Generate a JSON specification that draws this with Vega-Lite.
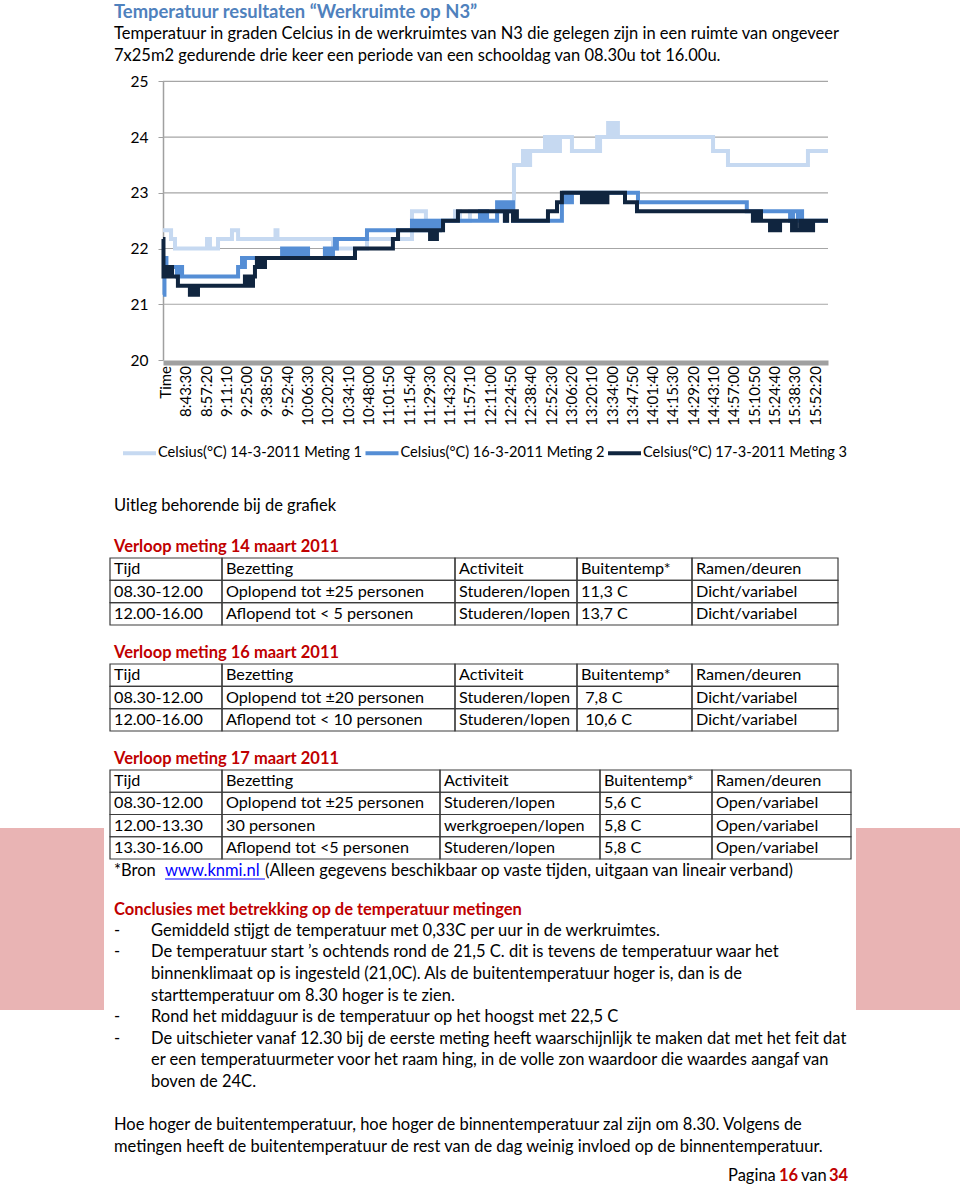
{
  "$schema": "https://vega.github.io/schema/vega-lite/v6.json",
  "width": 960,
  "height": 1186,
  "padding": 0,
  "autosize": {"type": "none"},
  "background": "white",
  "config": {"view": {"stroke": null}, "font": "Lato", "axis": {"grid": false}},
  "datasets": {
    "metingen": [
      {"reeks": "Celsius(°C) 14-3-2011 Meting 1", "tijd": "2011-03-14T08:27:40", "celsius": 22.33},
      {"reeks": "Celsius(°C) 14-3-2011 Meting 1", "tijd": "2011-03-14T08:33:10", "celsius": 22.17},
      {"reeks": "Celsius(°C) 14-3-2011 Meting 1", "tijd": "2011-03-14T08:35:50", "celsius": 22.0},
      {"reeks": "Celsius(°C) 14-3-2011 Meting 1", "tijd": "2011-03-14T08:57:40", "celsius": 22.17},
      {"reeks": "Celsius(°C) 14-3-2011 Meting 1", "tijd": "2011-03-14T08:59:40", "celsius": 22.0},
      {"reeks": "Celsius(°C) 14-3-2011 Meting 1", "tijd": "2011-03-14T09:05:10", "celsius": 22.17},
      {"reeks": "Celsius(°C) 14-3-2011 Meting 1", "tijd": "2011-03-14T09:14:40", "celsius": 22.33},
      {"reeks": "Celsius(°C) 14-3-2011 Meting 1", "tijd": "2011-03-14T09:18:50", "celsius": 22.17},
      {"reeks": "Celsius(°C) 14-3-2011 Meting 1", "tijd": "2011-03-14T09:44:20", "celsius": 22.33},
      {"reeks": "Celsius(°C) 14-3-2011 Meting 1", "tijd": "2011-03-14T09:45:40", "celsius": 22.17},
      {"reeks": "Celsius(°C) 14-3-2011 Meting 1", "tijd": "2011-03-14T10:23:30", "celsius": 22.0},
      {"reeks": "Celsius(°C) 14-3-2011 Meting 1", "tijd": "2011-03-14T10:46:40", "celsius": 22.17},
      {"reeks": "Celsius(°C) 14-3-2011 Meting 1", "tijd": "2011-03-14T11:17:20", "celsius": 22.67},
      {"reeks": "Celsius(°C) 14-3-2011 Meting 1", "tijd": "2011-03-14T11:26:50", "celsius": 22.5},
      {"reeks": "Celsius(°C) 14-3-2011 Meting 1", "tijd": "2011-03-14T11:46:40", "celsius": 22.67},
      {"reeks": "Celsius(°C) 14-3-2011 Meting 1", "tijd": "2011-03-14T11:50:00", "celsius": 22.5},
      {"reeks": "Celsius(°C) 14-3-2011 Meting 1", "tijd": "2011-03-14T11:56:50", "celsius": 22.67},
      {"reeks": "Celsius(°C) 14-3-2011 Meting 1", "tijd": "2011-03-14T12:26:50", "celsius": 23.5},
      {"reeks": "Celsius(°C) 14-3-2011 Meting 1", "tijd": "2011-03-14T12:33:00", "celsius": 23.75},
      {"reeks": "Celsius(°C) 14-3-2011 Meting 1", "tijd": "2011-03-14T12:34:20", "celsius": 23.5},
      {"reeks": "Celsius(°C) 14-3-2011 Meting 1", "tijd": "2011-03-14T12:35:20", "celsius": 23.75},
      {"reeks": "Celsius(°C) 14-3-2011 Meting 1", "tijd": "2011-03-14T12:36:20", "celsius": 23.5},
      {"reeks": "Celsius(°C) 14-3-2011 Meting 1", "tijd": "2011-03-14T12:37:50", "celsius": 23.75},
      {"reeks": "Celsius(°C) 14-3-2011 Meting 1", "tijd": "2011-03-14T12:48:00", "celsius": 24.0},
      {"reeks": "Celsius(°C) 14-3-2011 Meting 1", "tijd": "2011-03-14T12:49:20", "celsius": 23.75},
      {"reeks": "Celsius(°C) 14-3-2011 Meting 1", "tijd": "2011-03-14T12:50:20", "celsius": 24.0},
      {"reeks": "Celsius(°C) 14-3-2011 Meting 1", "tijd": "2011-03-14T12:51:20", "celsius": 23.75},
      {"reeks": "Celsius(°C) 14-3-2011 Meting 1", "tijd": "2011-03-14T12:52:30", "celsius": 24.0},
      {"reeks": "Celsius(°C) 14-3-2011 Meting 1", "tijd": "2011-03-14T12:53:30", "celsius": 23.75},
      {"reeks": "Celsius(°C) 14-3-2011 Meting 1", "tijd": "2011-03-14T12:54:30", "celsius": 24.0},
      {"reeks": "Celsius(°C) 14-3-2011 Meting 1", "tijd": "2011-03-14T12:55:30", "celsius": 23.75},
      {"reeks": "Celsius(°C) 14-3-2011 Meting 1", "tijd": "2011-03-14T12:56:30", "celsius": 24.0},
      {"reeks": "Celsius(°C) 14-3-2011 Meting 1", "tijd": "2011-03-14T12:57:30", "celsius": 23.75},
      {"reeks": "Celsius(°C) 14-3-2011 Meting 1", "tijd": "2011-03-14T12:58:10", "celsius": 24.0},
      {"reeks": "Celsius(°C) 14-3-2011 Meting 1", "tijd": "2011-03-14T13:06:20", "celsius": 23.75},
      {"reeks": "Celsius(°C) 14-3-2011 Meting 1", "tijd": "2011-03-14T13:23:30", "celsius": 24.0},
      {"reeks": "Celsius(°C) 14-3-2011 Meting 1", "tijd": "2011-03-14T13:24:30", "celsius": 23.75},
      {"reeks": "Celsius(°C) 14-3-2011 Meting 1", "tijd": "2011-03-14T13:25:30", "celsius": 24.0},
      {"reeks": "Celsius(°C) 14-3-2011 Meting 1", "tijd": "2011-03-14T13:31:00", "celsius": 24.25},
      {"reeks": "Celsius(°C) 14-3-2011 Meting 1", "tijd": "2011-03-14T13:32:00", "celsius": 24.0},
      {"reeks": "Celsius(°C) 14-3-2011 Meting 1", "tijd": "2011-03-14T13:33:00", "celsius": 24.25},
      {"reeks": "Celsius(°C) 14-3-2011 Meting 1", "tijd": "2011-03-14T13:34:00", "celsius": 24.0},
      {"reeks": "Celsius(°C) 14-3-2011 Meting 1", "tijd": "2011-03-14T13:35:00", "celsius": 24.25},
      {"reeks": "Celsius(°C) 14-3-2011 Meting 1", "tijd": "2011-03-14T13:36:00", "celsius": 24.0},
      {"reeks": "Celsius(°C) 14-3-2011 Meting 1", "tijd": "2011-03-14T13:37:00", "celsius": 24.25},
      {"reeks": "Celsius(°C) 14-3-2011 Meting 1", "tijd": "2011-03-14T13:37:40", "celsius": 24.0},
      {"reeks": "Celsius(°C) 14-3-2011 Meting 1", "tijd": "2011-03-14T14:42:30", "celsius": 23.75},
      {"reeks": "Celsius(°C) 14-3-2011 Meting 1", "tijd": "2011-03-14T14:52:40", "celsius": 23.5},
      {"reeks": "Celsius(°C) 14-3-2011 Meting 1", "tijd": "2011-03-14T15:47:10", "celsius": 23.75},
      {"reeks": "Celsius(°C) 14-3-2011 Meting 1", "tijd": "2011-03-14T16:00:50", "celsius": 23.75},

      {"reeks": "Celsius(°C) 16-3-2011 Meting 2", "tijd": "2011-03-16T08:27:40", "celsius": 21.17},
      {"reeks": "Celsius(°C) 16-3-2011 Meting 2", "tijd": "2011-03-16T08:28:40", "celsius": 21.83},
      {"reeks": "Celsius(°C) 16-3-2011 Meting 2", "tijd": "2011-03-16T08:30:00", "celsius": 21.67},
      {"reeks": "Celsius(°C) 16-3-2011 Meting 2", "tijd": "2011-03-16T08:37:10", "celsius": 21.5},
      {"reeks": "Celsius(°C) 16-3-2011 Meting 2", "tijd": "2011-03-16T08:38:10", "celsius": 21.67},
      {"reeks": "Celsius(°C) 16-3-2011 Meting 2", "tijd": "2011-03-16T08:39:20", "celsius": 21.5},
      {"reeks": "Celsius(°C) 16-3-2011 Meting 2", "tijd": "2011-03-16T08:40:00", "celsius": 21.67},
      {"reeks": "Celsius(°C) 16-3-2011 Meting 2", "tijd": "2011-03-16T08:40:40", "celsius": 21.5},
      {"reeks": "Celsius(°C) 16-3-2011 Meting 2", "tijd": "2011-03-16T09:18:50", "celsius": 21.67},
      {"reeks": "Celsius(°C) 16-3-2011 Meting 2", "tijd": "2011-03-16T09:21:30", "celsius": 21.83},
      {"reeks": "Celsius(°C) 16-3-2011 Meting 2", "tijd": "2011-03-16T09:22:30", "celsius": 21.67},
      {"reeks": "Celsius(°C) 16-3-2011 Meting 2", "tijd": "2011-03-16T09:23:30", "celsius": 21.83},
      {"reeks": "Celsius(°C) 16-3-2011 Meting 2", "tijd": "2011-03-16T09:48:50", "celsius": 22.0},
      {"reeks": "Celsius(°C) 16-3-2011 Meting 2", "tijd": "2011-03-16T09:49:50", "celsius": 21.83},
      {"reeks": "Celsius(°C) 16-3-2011 Meting 2", "tijd": "2011-03-16T09:50:50", "celsius": 22.0},
      {"reeks": "Celsius(°C) 16-3-2011 Meting 2", "tijd": "2011-03-16T09:51:50", "celsius": 21.83},
      {"reeks": "Celsius(°C) 16-3-2011 Meting 2", "tijd": "2011-03-16T09:52:50", "celsius": 22.0},
      {"reeks": "Celsius(°C) 16-3-2011 Meting 2", "tijd": "2011-03-16T09:53:50", "celsius": 21.83},
      {"reeks": "Celsius(°C) 16-3-2011 Meting 2", "tijd": "2011-03-16T09:54:50", "celsius": 22.0},
      {"reeks": "Celsius(°C) 16-3-2011 Meting 2", "tijd": "2011-03-16T09:56:20", "celsius": 21.83},
      {"reeks": "Celsius(°C) 16-3-2011 Meting 2", "tijd": "2011-03-16T09:59:00", "celsius": 22.0},
      {"reeks": "Celsius(°C) 16-3-2011 Meting 2", "tijd": "2011-03-16T10:01:00", "celsius": 21.83},
      {"reeks": "Celsius(°C) 16-3-2011 Meting 2", "tijd": "2011-03-16T10:03:00", "celsius": 22.0},
      {"reeks": "Celsius(°C) 16-3-2011 Meting 2", "tijd": "2011-03-16T10:04:30", "celsius": 21.83},
      {"reeks": "Celsius(°C) 16-3-2011 Meting 2", "tijd": "2011-03-16T10:05:30", "celsius": 22.0},
      {"reeks": "Celsius(°C) 16-3-2011 Meting 2", "tijd": "2011-03-16T10:06:30", "celsius": 21.83},
      {"reeks": "Celsius(°C) 16-3-2011 Meting 2", "tijd": "2011-03-16T10:18:00", "celsius": 22.0},
      {"reeks": "Celsius(°C) 16-3-2011 Meting 2", "tijd": "2011-03-16T10:19:30", "celsius": 21.83},
      {"reeks": "Celsius(°C) 16-3-2011 Meting 2", "tijd": "2011-03-16T10:20:50", "celsius": 22.0},
      {"reeks": "Celsius(°C) 16-3-2011 Meting 2", "tijd": "2011-03-16T10:22:10", "celsius": 21.83},
      {"reeks": "Celsius(°C) 16-3-2011 Meting 2", "tijd": "2011-03-16T10:23:30", "celsius": 22.0},
      {"reeks": "Celsius(°C) 16-3-2011 Meting 2", "tijd": "2011-03-16T10:24:50", "celsius": 22.17},
      {"reeks": "Celsius(°C) 16-3-2011 Meting 2", "tijd": "2011-03-16T10:25:30", "celsius": 22.0},
      {"reeks": "Celsius(°C) 16-3-2011 Meting 2", "tijd": "2011-03-16T10:26:10", "celsius": 22.17},
      {"reeks": "Celsius(°C) 16-3-2011 Meting 2", "tijd": "2011-03-16T10:46:40", "celsius": 22.33},
      {"reeks": "Celsius(°C) 16-3-2011 Meting 2", "tijd": "2011-03-16T11:17:20", "celsius": 22.5},
      {"reeks": "Celsius(°C) 16-3-2011 Meting 2", "tijd": "2011-03-16T11:19:00", "celsius": 22.33},
      {"reeks": "Celsius(°C) 16-3-2011 Meting 2", "tijd": "2011-03-16T11:20:50", "celsius": 22.5},
      {"reeks": "Celsius(°C) 16-3-2011 Meting 2", "tijd": "2011-03-16T11:22:30", "celsius": 22.33},
      {"reeks": "Celsius(°C) 16-3-2011 Meting 2", "tijd": "2011-03-16T11:24:10", "celsius": 22.5},
      {"reeks": "Celsius(°C) 16-3-2011 Meting 2", "tijd": "2011-03-16T11:25:50", "celsius": 22.33},
      {"reeks": "Celsius(°C) 16-3-2011 Meting 2", "tijd": "2011-03-16T11:27:30", "celsius": 22.5},
      {"reeks": "Celsius(°C) 16-3-2011 Meting 2", "tijd": "2011-03-16T11:29:20", "celsius": 22.33},
      {"reeks": "Celsius(°C) 16-3-2011 Meting 2", "tijd": "2011-03-16T11:31:00", "celsius": 22.5},
      {"reeks": "Celsius(°C) 16-3-2011 Meting 2", "tijd": "2011-03-16T11:32:40", "celsius": 22.33},
      {"reeks": "Celsius(°C) 16-3-2011 Meting 2", "tijd": "2011-03-16T11:34:20", "celsius": 22.5},
      {"reeks": "Celsius(°C) 16-3-2011 Meting 2", "tijd": "2011-03-16T11:35:20", "celsius": 22.33},
      {"reeks": "Celsius(°C) 16-3-2011 Meting 2", "tijd": "2011-03-16T11:36:30", "celsius": 22.5},
      {"reeks": "Celsius(°C) 16-3-2011 Meting 2", "tijd": "2011-03-16T12:03:40", "celsius": 22.67},
      {"reeks": "Celsius(°C) 16-3-2011 Meting 2", "tijd": "2011-03-16T12:04:40", "celsius": 22.5},
      {"reeks": "Celsius(°C) 16-3-2011 Meting 2", "tijd": "2011-03-16T12:05:40", "celsius": 22.67},
      {"reeks": "Celsius(°C) 16-3-2011 Meting 2", "tijd": "2011-03-16T12:06:50", "celsius": 22.5},
      {"reeks": "Celsius(°C) 16-3-2011 Meting 2", "tijd": "2011-03-16T12:07:50", "celsius": 22.67},
      {"reeks": "Celsius(°C) 16-3-2011 Meting 2", "tijd": "2011-03-16T12:08:30", "celsius": 22.5},
      {"reeks": "Celsius(°C) 16-3-2011 Meting 2", "tijd": "2011-03-16T12:15:20", "celsius": 22.83},
      {"reeks": "Celsius(°C) 16-3-2011 Meting 2", "tijd": "2011-03-16T12:16:40", "celsius": 22.67},
      {"reeks": "Celsius(°C) 16-3-2011 Meting 2", "tijd": "2011-03-16T12:18:00", "celsius": 22.83},
      {"reeks": "Celsius(°C) 16-3-2011 Meting 2", "tijd": "2011-03-16T12:19:20", "celsius": 22.67},
      {"reeks": "Celsius(°C) 16-3-2011 Meting 2", "tijd": "2011-03-16T12:20:40", "celsius": 22.5},
      {"reeks": "Celsius(°C) 16-3-2011 Meting 2", "tijd": "2011-03-16T12:21:50", "celsius": 22.83},
      {"reeks": "Celsius(°C) 16-3-2011 Meting 2", "tijd": "2011-03-16T12:23:10", "celsius": 22.67},
      {"reeks": "Celsius(°C) 16-3-2011 Meting 2", "tijd": "2011-03-16T12:24:30", "celsius": 22.83},
      {"reeks": "Celsius(°C) 16-3-2011 Meting 2", "tijd": "2011-03-16T12:26:10", "celsius": 22.5},
      {"reeks": "Celsius(°C) 16-3-2011 Meting 2", "tijd": "2011-03-16T12:59:30", "celsius": 22.83},
      {"reeks": "Celsius(°C) 16-3-2011 Meting 2", "tijd": "2011-03-16T13:01:00", "celsius": 23.0},
      {"reeks": "Celsius(°C) 16-3-2011 Meting 2", "tijd": "2011-03-16T13:02:20", "celsius": 22.83},
      {"reeks": "Celsius(°C) 16-3-2011 Meting 2", "tijd": "2011-03-16T13:03:40", "celsius": 23.0},
      {"reeks": "Celsius(°C) 16-3-2011 Meting 2", "tijd": "2011-03-16T13:05:00", "celsius": 22.83},
      {"reeks": "Celsius(°C) 16-3-2011 Meting 2", "tijd": "2011-03-16T13:06:20", "celsius": 23.0},
      {"reeks": "Celsius(°C) 16-3-2011 Meting 2", "tijd": "2011-03-16T13:51:20", "celsius": 22.83},
      {"reeks": "Celsius(°C) 16-3-2011 Meting 2", "tijd": "2011-03-16T15:05:30", "celsius": 22.67},
      {"reeks": "Celsius(°C) 16-3-2011 Meting 2", "tijd": "2011-03-16T15:35:00", "celsius": 22.5},
      {"reeks": "Celsius(°C) 16-3-2011 Meting 2", "tijd": "2011-03-16T15:37:00", "celsius": 22.67},
      {"reeks": "Celsius(°C) 16-3-2011 Meting 2", "tijd": "2011-03-16T15:40:20", "celsius": 22.5},
      {"reeks": "Celsius(°C) 16-3-2011 Meting 2", "tijd": "2011-03-16T15:41:50", "celsius": 22.67},
      {"reeks": "Celsius(°C) 16-3-2011 Meting 2", "tijd": "2011-03-16T15:43:10", "celsius": 22.5},
      {"reeks": "Celsius(°C) 16-3-2011 Meting 2", "tijd": "2011-03-16T16:00:50", "celsius": 22.5},

      {"reeks": "Celsius(°C) 17-3-2011 Meting 3", "tijd": "2011-03-17T08:27:40", "celsius": 22.17},
      {"reeks": "Celsius(°C) 17-3-2011 Meting 3", "tijd": "2011-03-17T08:28:00", "celsius": 21.5},
      {"reeks": "Celsius(°C) 17-3-2011 Meting 3", "tijd": "2011-03-17T08:29:00", "celsius": 21.67},
      {"reeks": "Celsius(°C) 17-3-2011 Meting 3", "tijd": "2011-03-17T08:30:00", "celsius": 21.5},
      {"reeks": "Celsius(°C) 17-3-2011 Meting 3", "tijd": "2011-03-17T08:31:00", "celsius": 21.67},
      {"reeks": "Celsius(°C) 17-3-2011 Meting 3", "tijd": "2011-03-17T08:32:10", "celsius": 21.5},
      {"reeks": "Celsius(°C) 17-3-2011 Meting 3", "tijd": "2011-03-17T08:33:10", "celsius": 21.67},
      {"reeks": "Celsius(°C) 17-3-2011 Meting 3", "tijd": "2011-03-17T08:33:50", "celsius": 21.5},
      {"reeks": "Celsius(°C) 17-3-2011 Meting 3", "tijd": "2011-03-17T08:37:50", "celsius": 21.33},
      {"reeks": "Celsius(°C) 17-3-2011 Meting 3", "tijd": "2011-03-17T08:46:00", "celsius": 21.17},
      {"reeks": "Celsius(°C) 17-3-2011 Meting 3", "tijd": "2011-03-17T08:47:30", "celsius": 21.33},
      {"reeks": "Celsius(°C) 17-3-2011 Meting 3", "tijd": "2011-03-17T08:48:50", "celsius": 21.17},
      {"reeks": "Celsius(°C) 17-3-2011 Meting 3", "tijd": "2011-03-17T08:50:10", "celsius": 21.33},
      {"reeks": "Celsius(°C) 17-3-2011 Meting 3", "tijd": "2011-03-17T08:50:50", "celsius": 21.17},
      {"reeks": "Celsius(°C) 17-3-2011 Meting 3", "tijd": "2011-03-17T08:51:30", "celsius": 21.33},
      {"reeks": "Celsius(°C) 17-3-2011 Meting 3", "tijd": "2011-03-17T09:23:30", "celsius": 21.5},
      {"reeks": "Celsius(°C) 17-3-2011 Meting 3", "tijd": "2011-03-17T09:24:50", "celsius": 21.33},
      {"reeks": "Celsius(°C) 17-3-2011 Meting 3", "tijd": "2011-03-17T09:26:20", "celsius": 21.5},
      {"reeks": "Celsius(°C) 17-3-2011 Meting 3", "tijd": "2011-03-17T09:27:40", "celsius": 21.33},
      {"reeks": "Celsius(°C) 17-3-2011 Meting 3", "tijd": "2011-03-17T09:29:00", "celsius": 21.5},
      {"reeks": "Celsius(°C) 17-3-2011 Meting 3", "tijd": "2011-03-17T09:30:20", "celsius": 21.67},
      {"reeks": "Celsius(°C) 17-3-2011 Meting 3", "tijd": "2011-03-17T09:31:40", "celsius": 21.83},
      {"reeks": "Celsius(°C) 17-3-2011 Meting 3", "tijd": "2011-03-17T09:33:10", "celsius": 21.67},
      {"reeks": "Celsius(°C) 17-3-2011 Meting 3", "tijd": "2011-03-17T09:34:30", "celsius": 21.83},
      {"reeks": "Celsius(°C) 17-3-2011 Meting 3", "tijd": "2011-03-17T09:35:50", "celsius": 21.67},
      {"reeks": "Celsius(°C) 17-3-2011 Meting 3", "tijd": "2011-03-17T09:37:10", "celsius": 21.83},
      {"reeks": "Celsius(°C) 17-3-2011 Meting 3", "tijd": "2011-03-17T10:38:30", "celsius": 22.0},
      {"reeks": "Celsius(°C) 17-3-2011 Meting 3", "tijd": "2011-03-17T11:04:20", "celsius": 22.17},
      {"reeks": "Celsius(°C) 17-3-2011 Meting 3", "tijd": "2011-03-17T11:07:50", "celsius": 22.33},
      {"reeks": "Celsius(°C) 17-3-2011 Meting 3", "tijd": "2011-03-17T11:29:40", "celsius": 22.17},
      {"reeks": "Celsius(°C) 17-3-2011 Meting 3", "tijd": "2011-03-17T11:31:00", "celsius": 22.33},
      {"reeks": "Celsius(°C) 17-3-2011 Meting 3", "tijd": "2011-03-17T11:32:20", "celsius": 22.17},
      {"reeks": "Celsius(°C) 17-3-2011 Meting 3", "tijd": "2011-03-17T11:34:20", "celsius": 22.33},
      {"reeks": "Celsius(°C) 17-3-2011 Meting 3", "tijd": "2011-03-17T11:38:30", "celsius": 22.5},
      {"reeks": "Celsius(°C) 17-3-2011 Meting 3", "tijd": "2011-03-17T11:48:40", "celsius": 22.67},
      {"reeks": "Celsius(°C) 17-3-2011 Meting 3", "tijd": "2011-03-17T12:20:40", "celsius": 22.5},
      {"reeks": "Celsius(°C) 17-3-2011 Meting 3", "tijd": "2011-03-17T12:22:10", "celsius": 22.67},
      {"reeks": "Celsius(°C) 17-3-2011 Meting 3", "tijd": "2011-03-17T12:26:10", "celsius": 22.5},
      {"reeks": "Celsius(°C) 17-3-2011 Meting 3", "tijd": "2011-03-17T12:27:30", "celsius": 22.67},
      {"reeks": "Celsius(°C) 17-3-2011 Meting 3", "tijd": "2011-03-17T12:28:50", "celsius": 22.5},
      {"reeks": "Celsius(°C) 17-3-2011 Meting 3", "tijd": "2011-03-17T12:50:00", "celsius": 22.67},
      {"reeks": "Celsius(°C) 17-3-2011 Meting 3", "tijd": "2011-03-17T12:56:10", "celsius": 22.83},
      {"reeks": "Celsius(°C) 17-3-2011 Meting 3", "tijd": "2011-03-17T12:59:30", "celsius": 23.0},
      {"reeks": "Celsius(°C) 17-3-2011 Meting 3", "tijd": "2011-03-17T13:13:10", "celsius": 22.83},
      {"reeks": "Celsius(°C) 17-3-2011 Meting 3", "tijd": "2011-03-17T13:14:30", "celsius": 23.0},
      {"reeks": "Celsius(°C) 17-3-2011 Meting 3", "tijd": "2011-03-17T13:15:50", "celsius": 22.83},
      {"reeks": "Celsius(°C) 17-3-2011 Meting 3", "tijd": "2011-03-17T13:17:20", "celsius": 23.0},
      {"reeks": "Celsius(°C) 17-3-2011 Meting 3", "tijd": "2011-03-17T13:18:40", "celsius": 22.83},
      {"reeks": "Celsius(°C) 17-3-2011 Meting 3", "tijd": "2011-03-17T13:20:00", "celsius": 23.0},
      {"reeks": "Celsius(°C) 17-3-2011 Meting 3", "tijd": "2011-03-17T13:21:20", "celsius": 22.83},
      {"reeks": "Celsius(°C) 17-3-2011 Meting 3", "tijd": "2011-03-17T13:22:40", "celsius": 23.0},
      {"reeks": "Celsius(°C) 17-3-2011 Meting 3", "tijd": "2011-03-17T13:24:10", "celsius": 22.83},
      {"reeks": "Celsius(°C) 17-3-2011 Meting 3", "tijd": "2011-03-17T13:26:50", "celsius": 23.0},
      {"reeks": "Celsius(°C) 17-3-2011 Meting 3", "tijd": "2011-03-17T13:28:50", "celsius": 22.83},
      {"reeks": "Celsius(°C) 17-3-2011 Meting 3", "tijd": "2011-03-17T13:30:30", "celsius": 23.0},
      {"reeks": "Celsius(°C) 17-3-2011 Meting 3", "tijd": "2011-03-17T13:42:30", "celsius": 22.83},
      {"reeks": "Celsius(°C) 17-3-2011 Meting 3", "tijd": "2011-03-17T13:50:40", "celsius": 22.67},
      {"reeks": "Celsius(°C) 17-3-2011 Meting 3", "tijd": "2011-03-17T15:09:40", "celsius": 22.5},
      {"reeks": "Celsius(°C) 17-3-2011 Meting 3", "tijd": "2011-03-17T15:11:10", "celsius": 22.67},
      {"reeks": "Celsius(°C) 17-3-2011 Meting 3", "tijd": "2011-03-17T15:12:30", "celsius": 22.5},
      {"reeks": "Celsius(°C) 17-3-2011 Meting 3", "tijd": "2011-03-17T15:13:50", "celsius": 22.67},
      {"reeks": "Celsius(°C) 17-3-2011 Meting 3", "tijd": "2011-03-17T15:15:10", "celsius": 22.5},
      {"reeks": "Celsius(°C) 17-3-2011 Meting 3", "tijd": "2011-03-17T15:21:20", "celsius": 22.33},
      {"reeks": "Celsius(°C) 17-3-2011 Meting 3", "tijd": "2011-03-17T15:22:40", "celsius": 22.5},
      {"reeks": "Celsius(°C) 17-3-2011 Meting 3", "tijd": "2011-03-17T15:24:00", "celsius": 22.33},
      {"reeks": "Celsius(°C) 17-3-2011 Meting 3", "tijd": "2011-03-17T15:25:20", "celsius": 22.5},
      {"reeks": "Celsius(°C) 17-3-2011 Meting 3", "tijd": "2011-03-17T15:26:50", "celsius": 22.33},
      {"reeks": "Celsius(°C) 17-3-2011 Meting 3", "tijd": "2011-03-17T15:28:10", "celsius": 22.5},
      {"reeks": "Celsius(°C) 17-3-2011 Meting 3", "tijd": "2011-03-17T15:36:20", "celsius": 22.33},
      {"reeks": "Celsius(°C) 17-3-2011 Meting 3", "tijd": "2011-03-17T15:37:40", "celsius": 22.5},
      {"reeks": "Celsius(°C) 17-3-2011 Meting 3", "tijd": "2011-03-17T15:39:00", "celsius": 22.33},
      {"reeks": "Celsius(°C) 17-3-2011 Meting 3", "tijd": "2011-03-17T15:41:50", "celsius": 22.5},
      {"reeks": "Celsius(°C) 17-3-2011 Meting 3", "tijd": "2011-03-17T15:43:30", "celsius": 22.33},
      {"reeks": "Celsius(°C) 17-3-2011 Meting 3", "tijd": "2011-03-17T15:44:50", "celsius": 22.5},
      {"reeks": "Celsius(°C) 17-3-2011 Meting 3", "tijd": "2011-03-17T15:46:10", "celsius": 22.33},
      {"reeks": "Celsius(°C) 17-3-2011 Meting 3", "tijd": "2011-03-17T15:48:10", "celsius": 22.5},
      {"reeks": "Celsius(°C) 17-3-2011 Meting 3", "tijd": "2011-03-17T15:49:20", "celsius": 22.33},
      {"reeks": "Celsius(°C) 17-3-2011 Meting 3", "tijd": "2011-03-17T15:50:40", "celsius": 22.5},
      {"reeks": "Celsius(°C) 17-3-2011 Meting 3", "tijd": "2011-03-17T16:00:50", "celsius": 22.5}
    ],
    "tijdlabels": [
      {"tick": "2011-03-14T08:29:40", "label": "Time"},
      {"tick": "2011-03-14T08:43:30", "label": "8:43:30"},
      {"tick": "2011-03-14T08:57:20", "label": "8:57:20"},
      {"tick": "2011-03-14T09:11:10", "label": "9:11:10"},
      {"tick": "2011-03-14T09:25:00", "label": "9:25:00"},
      {"tick": "2011-03-14T09:38:50", "label": "9:38:50"},
      {"tick": "2011-03-14T09:52:40", "label": "9:52:40"},
      {"tick": "2011-03-14T10:06:30", "label": "10:06:30"},
      {"tick": "2011-03-14T10:20:20", "label": "10:20:20"},
      {"tick": "2011-03-14T10:34:10", "label": "10:34:10"},
      {"tick": "2011-03-14T10:48:00", "label": "10:48:00"},
      {"tick": "2011-03-14T11:01:50", "label": "11:01:50"},
      {"tick": "2011-03-14T11:15:40", "label": "11:15:40"},
      {"tick": "2011-03-14T11:29:30", "label": "11:29:30"},
      {"tick": "2011-03-14T11:43:20", "label": "11:43:20"},
      {"tick": "2011-03-14T11:57:10", "label": "11:57:10"},
      {"tick": "2011-03-14T12:11:00", "label": "12:11:00"},
      {"tick": "2011-03-14T12:24:50", "label": "12:24:50"},
      {"tick": "2011-03-14T12:38:40", "label": "12:38:40"},
      {"tick": "2011-03-14T12:52:30", "label": "12:52:30"},
      {"tick": "2011-03-14T13:06:20", "label": "13:06:20"},
      {"tick": "2011-03-14T13:20:10", "label": "13:20:10"},
      {"tick": "2011-03-14T13:34:00", "label": "13:34:00"},
      {"tick": "2011-03-14T13:47:50", "label": "13:47:50"},
      {"tick": "2011-03-14T14:01:40", "label": "14:01:40"},
      {"tick": "2011-03-14T14:15:30", "label": "14:15:30"},
      {"tick": "2011-03-14T14:29:20", "label": "14:29:20"},
      {"tick": "2011-03-14T14:43:10", "label": "14:43:10"},
      {"tick": "2011-03-14T14:57:00", "label": "14:57:00"},
      {"tick": "2011-03-14T15:10:50", "label": "15:10:50"},
      {"tick": "2011-03-14T15:24:40", "label": "15:24:40"},
      {"tick": "2011-03-14T15:38:30", "label": "15:38:30"},
      {"tick": "2011-03-14T15:52:20", "label": "15:52:20"}
    ],
    "regels": [
      {"regel": 0, "kolom": 0, "soort": "kop", "tekst": "Temperatuur resultaten “Werkruimte op N3”"},
      {"regel": 1, "kolom": 0, "soort": "tekst", "tekst": "Temperatuur in graden Celcius in de werkruimtes van N3 die gelegen zijn in een ruimte van ongeveer"},
      {"regel": 2, "kolom": 0, "soort": "tekst", "tekst": "7x25m2 gedurende drie keer een periode van een schooldag van 08.30u tot 16.00u."},
      {"regel": 3, "kolom": 0, "soort": "tekst", "tekst": "Uitleg behorende bij de grafiek"},
      {"regel": 4, "kolom": 0, "soort": "rood", "tekst": "Verloop meting 14 maart 2011"},
      {"regel": 5, "kolom": 0, "soort": "rood", "tekst": "Verloop meting 16 maart 2011"},
      {"regel": 6, "kolom": 0, "soort": "rood", "tekst": "Verloop meting 17 maart 2011"},
      {"regel": 7, "kolom": 0, "soort": "tekst", "tekst": "*Bron"},
      {"regel": 7, "kolom": 2, "kolomEind": 3, "soort": "link", "tekst": "www.knmi.nl"},
      {"regel": 7, "kolom": 3, "soort": "tekst", "tekst": "(Alleen gegevens beschikbaar op vaste tijden, uitgaan van lineair verband)"},
      {"regel": 8, "kolom": 0, "soort": "rood", "tekst": "Conclusies met betrekking op de temperatuur metingen"},
      {"regel": 9, "kolom": 0, "soort": "tekst", "tekst": "-"},
      {"regel": 9, "kolom": 1, "soort": "tekst", "tekst": "Gemiddeld stijgt de temperatuur met 0,33C per uur in de werkruimtes."},
      {"regel": 10, "kolom": 0, "soort": "tekst", "tekst": "-"},
      {"regel": 10, "kolom": 1, "soort": "tekst", "tekst": "De temperatuur start ’s ochtends rond de 21,5 C. dit is tevens de temperatuur waar het"},
      {"regel": 11, "kolom": 1, "soort": "tekst", "tekst": "binnenklimaat op is ingesteld (21,0C). Als de buitentemperatuur hoger is, dan is de"},
      {"regel": 12, "kolom": 1, "soort": "tekst", "tekst": "starttemperatuur om 8.30 hoger is te zien."},
      {"regel": 13, "kolom": 0, "soort": "tekst", "tekst": "-"},
      {"regel": 13, "kolom": 1, "soort": "tekst", "tekst": "Rond het middaguur is de temperatuur op het hoogst met 22,5 C"},
      {"regel": 14, "kolom": 0, "soort": "tekst", "tekst": "-"},
      {"regel": 14, "kolom": 1, "soort": "tekst", "tekst": "De uitschieter vanaf 12.30 bij de eerste meting heeft waarschijnlijk te maken dat met het feit dat"},
      {"regel": 15, "kolom": 1, "soort": "tekst", "tekst": "er een temperatuurmeter voor het raam hing, in de volle zon waardoor die waardes aangaf van"},
      {"regel": 16, "kolom": 1, "soort": "tekst", "tekst": "boven de 24C."},
      {"regel": 17, "kolom": 0, "soort": "tekst", "tekst": "Hoe hoger de buitentemperatuur, hoe hoger de binnentemperatuur zal zijn om 8.30. Volgens de"},
      {"regel": 18, "kolom": 0, "soort": "tekst", "tekst": "metingen heeft de buitentemperatuur de rest van de dag weinig invloed op de binnentemperatuur."},
      {"regel": 19, "kolom": 4, "soort": "tekst", "tekst": "Pagina"},
      {"regel": 19, "kolom": 5, "soort": "rood", "tekst": "16"},
      {"regel": 19, "kolom": 6, "soort": "tekst", "tekst": "van"},
      {"regel": 19, "kolom": 7, "soort": "rood", "tekst": "34"}
    ],
    "cellen": [
      {"tabel": "14-3", "rij": 0, "kol": 0, "kolEind": 1, "tekst": "Tijd"},
      {"tabel": "14-3", "rij": 0, "kol": 1, "kolEind": 2, "tekst": "Bezetting"},
      {"tabel": "14-3", "rij": 0, "kol": 2, "kolEind": 3, "tekst": "Activiteit"},
      {"tabel": "14-3", "rij": 0, "kol": 3, "kolEind": 4, "tekst": "Buitentemp*"},
      {"tabel": "14-3", "rij": 0, "kol": 4, "kolEind": 5, "tekst": "Ramen/deuren"},
      {"tabel": "14-3", "rij": 1, "kol": 0, "kolEind": 1, "tekst": "08.30-12.00"},
      {"tabel": "14-3", "rij": 1, "kol": 1, "kolEind": 2, "tekst": "Oplopend tot ±25 personen"},
      {"tabel": "14-3", "rij": 1, "kol": 2, "kolEind": 3, "tekst": "Studeren/lopen"},
      {"tabel": "14-3", "rij": 1, "kol": 3, "kolEind": 4, "tekst": "11,3 C"},
      {"tabel": "14-3", "rij": 1, "kol": 4, "kolEind": 5, "tekst": "Dicht/variabel"},
      {"tabel": "14-3", "rij": 2, "kol": 0, "kolEind": 1, "tekst": "12.00-16.00"},
      {"tabel": "14-3", "rij": 2, "kol": 1, "kolEind": 2, "tekst": "Aflopend tot < 5 personen"},
      {"tabel": "14-3", "rij": 2, "kol": 2, "kolEind": 3, "tekst": "Studeren/lopen"},
      {"tabel": "14-3", "rij": 2, "kol": 3, "kolEind": 4, "tekst": "13,7 C"},
      {"tabel": "14-3", "rij": 2, "kol": 4, "kolEind": 5, "tekst": "Dicht/variabel"},
      {"tabel": "16-3", "rij": 0, "kol": 0, "kolEind": 1, "tekst": "Tijd"},
      {"tabel": "16-3", "rij": 0, "kol": 1, "kolEind": 2, "tekst": "Bezetting"},
      {"tabel": "16-3", "rij": 0, "kol": 2, "kolEind": 3, "tekst": "Activiteit"},
      {"tabel": "16-3", "rij": 0, "kol": 3, "kolEind": 4, "tekst": "Buitentemp*"},
      {"tabel": "16-3", "rij": 0, "kol": 4, "kolEind": 5, "tekst": "Ramen/deuren"},
      {"tabel": "16-3", "rij": 1, "kol": 0, "kolEind": 1, "tekst": "08.30-12.00"},
      {"tabel": "16-3", "rij": 1, "kol": 1, "kolEind": 2, "tekst": "Oplopend tot ±20 personen"},
      {"tabel": "16-3", "rij": 1, "kol": 2, "kolEind": 3, "tekst": "Studeren/lopen"},
      {"tabel": "16-3", "rij": 1, "kol": 3, "kolEind": 4, "tekst": "\u200b\u00a07,8 C"},
      {"tabel": "16-3", "rij": 1, "kol": 4, "kolEind": 5, "tekst": "Dicht/variabel"},
      {"tabel": "16-3", "rij": 2, "kol": 0, "kolEind": 1, "tekst": "12.00-16.00"},
      {"tabel": "16-3", "rij": 2, "kol": 1, "kolEind": 2, "tekst": "Aflopend tot < 10 personen"},
      {"tabel": "16-3", "rij": 2, "kol": 2, "kolEind": 3, "tekst": "Studeren/lopen"},
      {"tabel": "16-3", "rij": 2, "kol": 3, "kolEind": 4, "tekst": "\u200b\u00a010,6 C"},
      {"tabel": "16-3", "rij": 2, "kol": 4, "kolEind": 5, "tekst": "Dicht/variabel"},
      {"tabel": "17-3", "rij": 0, "kol": 0, "kolEind": 1, "tekst": "Tijd"},
      {"tabel": "17-3", "rij": 0, "kol": 1, "kolEind": 2, "tekst": "Bezetting"},
      {"tabel": "17-3", "rij": 0, "kol": 2, "kolEind": 3, "tekst": "Activiteit"},
      {"tabel": "17-3", "rij": 0, "kol": 3, "kolEind": 4, "tekst": "Buitentemp*"},
      {"tabel": "17-3", "rij": 0, "kol": 4, "kolEind": 5, "tekst": "Ramen/deuren"},
      {"tabel": "17-3", "rij": 1, "kol": 0, "kolEind": 1, "tekst": "08.30-12.00"},
      {"tabel": "17-3", "rij": 1, "kol": 1, "kolEind": 2, "tekst": "Oplopend tot ±25 personen"},
      {"tabel": "17-3", "rij": 1, "kol": 2, "kolEind": 3, "tekst": "Studeren/lopen"},
      {"tabel": "17-3", "rij": 1, "kol": 3, "kolEind": 4, "tekst": "5,6 C"},
      {"tabel": "17-3", "rij": 1, "kol": 4, "kolEind": 5, "tekst": "Open/variabel"},
      {"tabel": "17-3", "rij": 2, "kol": 0, "kolEind": 1, "tekst": "12.00-13.30"},
      {"tabel": "17-3", "rij": 2, "kol": 1, "kolEind": 2, "tekst": "30 personen"},
      {"tabel": "17-3", "rij": 2, "kol": 2, "kolEind": 3, "tekst": "werkgroepen/lopen"},
      {"tabel": "17-3", "rij": 2, "kol": 3, "kolEind": 4, "tekst": "5,8 C"},
      {"tabel": "17-3", "rij": 2, "kol": 4, "kolEind": 5, "tekst": "Open/variabel"},
      {"tabel": "17-3", "rij": 3, "kol": 0, "kolEind": 1, "tekst": "13.30-16.00"},
      {"tabel": "17-3", "rij": 3, "kol": 1, "kolEind": 2, "tekst": "Aflopend tot <5 personen"},
      {"tabel": "17-3", "rij": 3, "kol": 2, "kolEind": 3, "tekst": "Studeren/lopen"},
      {"tabel": "17-3", "rij": 3, "kol": 3, "kolEind": 4, "tekst": "5,8 C"},
      {"tabel": "17-3", "rij": 3, "kol": 4, "kolEind": 5, "tekst": "Open/variabel"}
    ]
  },
  "layer": [
    {
      "data": {"values": [{"kant": "links", "vlak": "rand"}, {"kant": "rechts", "vlak": "rand"}]},
      "mark": {"type": "rect", "color": "#e9b4b4"},
      "encoding": {
        "x": {"field": "kant", "type": "nominal", "scale": {"type": "band", "domain": ["links", "rechts"], "range": [0, 960], "paddingInner": 0.8785, "paddingOuter": 0}, "axis": null},
        "y": {"field": "vlak", "type": "nominal", "scale": {"type": "band", "range": [828, 1010], "paddingInner": 0, "paddingOuter": 0}, "axis": null}
      }
    },
    {
      "layer": [
        {
          "data": {"values": [{"graad": 21}, {"graad": 22}, {"graad": 23}, {"graad": 24}, {"graad": 25}]},
          "mark": {"type": "rule", "color": "#a6a6a6", "strokeWidth": 1.2},
          "encoding": {
            "y": {"field": "graad", "type": "quantitative"},
            "x": {"datum": {"hours": 8, "minutes": 27, "seconds": 40}, "type": "temporal"},
            "x2": {"datum": {"hours": 16, "minutes": 0, "seconds": 50}}
          }
        },
        {
          "data": {"name": "metingen"},
          "mark": {"type": "line", "interpolate": "step-after", "strokeWidth": 4, "strokeCap": "butt", "strokeJoin": "miter"},
          "encoding": {
            "x": {
              "field": "tijd", "type": "temporal", "timeUnit": "hoursminutesseconds",
              "scale": {"domain": [{"hours": 8, "minutes": 27, "seconds": 40}, {"hours": 16, "minutes": 0, "seconds": 50}], "range": [163, 828]},
              "axis": {
                "orient": "bottom", "offset": -823.5, "title": null, "grid": false, "ticks": false, "labels": false,
                "domainWidth": 5, "domainColor": "#a0a0a0"
              }
            },
            "y": {
              "field": "celsius", "type": "quantitative",
              "scale": {"domain": [20, 25], "range": [360, 81.3], "zero": false, "nice": false},
              "axis": {
                "orient": "left", "offset": -163, "title": null, "grid": false, "format": "d",
                "values": [20, 21, 22, 23, 24, 25], "tickSize": 5, "tickColor": "#a0a0a0",
                "domainColor": "#a0a0a0", "domainWidth": 1.5,
                "labelFontSize": 15.5, "labelColor": "#000000", "labelPadding": 10
              }
            },
            "color": {
              "field": "reeks", "type": "nominal",
              "scale": {"domain": ["Celsius(°C) 14-3-2011 Meting 1", "Celsius(°C) 16-3-2011 Meting 2", "Celsius(°C) 17-3-2011 Meting 3"], "range": ["#c6d9f1", "#558ed5", "#10253f"]},
              "legend": {
                "orient": "none", "legendX": 121, "legendY": 434.5, "direction": "horizontal", "title": null,
                "symbolType": "stroke", "symbolSize": 1089, "symbolStrokeWidth": 4,
                "labelFontSize": 14.6, "labelColor": "#000000", "labelLimit": 400, "labelOffset": 0,
                "columnPadding": -5.5, "padding": 0
              }
            }
          }
        },
        {
          "data": {"name": "tijdlabels"},
          "mark": {"type": "text", "angle": 270, "align": "right", "baseline": "middle", "fontSize": 15, "color": "#000000", "yOffset": 6},
          "encoding": {
            "x": {"field": "tick", "type": "temporal", "timeUnit": "hoursminutesseconds"},
            "y": {"datum": 20, "type": "quantitative"},
            "text": {"field": "label"}
          }
        }
      ]
    },
    {
      "data": {"name": "regels"},
      "encoding": {
        "y": {"field": "regel", "type": "quantitative", "axis": null,
              "scale": {"domain": [0, 1, 2, 3, 4, 5, 6, 7, 8, 9, 10, 11, 12, 13, 14, 15, 16, 17, 18, 19],
                        "range": [12, 34, 56, 506, 547, 653, 759, 871, 910, 931, 952, 974, 996, 1017, 1039, 1060, 1082, 1125, 1147, 1176],
                        "zero": false, "nice": false}},
        "x": {"field": "kolom", "type": "quantitative", "axis": null,
              "scale": {"domain": [0, 1, 2, 3, 4, 5, 6, 7], "range": [114, 151, 165, 265, 728, 779, 801, 829], "zero": false, "nice": false}},
        "color": {"field": "soort", "type": "nominal", "legend": null,
                  "scale": {"domain": ["kop", "rood", "tekst", "link"], "range": ["#4f81bd", "#c00000", "#000000", "#0000ff"]}}
      },
      "layer": [
        {
          "transform": [{"filter": "datum.soort == 'tekst' || datum.soort == 'link'"}],
          "mark": {"type": "text", "align": "left", "baseline": "middle", "fontSize": 16.5},
          "encoding": {"text": {"field": "tekst"}}
        },
        {
          "transform": [{"filter": "datum.soort == 'kop'"}],
          "mark": {"type": "text", "align": "left", "baseline": "middle", "fontSize": 18.4, "fontWeight": "bold"},
          "encoding": {"text": {"field": "tekst"}}
        },
        {
          "transform": [{"filter": "datum.soort == 'rood'"}],
          "mark": {"type": "text", "align": "left", "baseline": "middle", "fontSize": 16.5, "fontWeight": "bold"},
          "encoding": {"text": {"field": "tekst"}}
        },
        {
          "transform": [{"filter": "datum.soort == 'link'"}],
          "mark": {"type": "rule", "strokeWidth": 1, "yOffset": 8},
          "encoding": {"x2": {"field": "kolomEind"}}
        }
      ]
    },
    {
      "data": {"name": "cellen"},
      "transform": [{"filter": "datum.tabel == '14-3'"}],
      "encoding": {
        "x": {"field": "kol", "type": "quantitative", "axis": null,
              "scale": {"domain": [0, 1, 2, 3, 4, 5], "range": [110, 222, 455, 577, 692, 838], "zero": false, "nice": false}},
        "y": {"field": "rij", "type": "ordinal", "axis": null,
              "scale": {"type": "band", "range": [558, 625], "paddingInner": 0, "paddingOuter": 0}}
      },
      "layer": [
        {"mark": {"type": "rect", "filled": false, "color": "#3c3c3c", "strokeWidth": 1.2}, "encoding": {"x2": {"field": "kolEind"}}},
        {"mark": {"type": "text", "align": "left", "baseline": "middle", "dx": 4, "fontSize": 16.2, "color": "#000000"}, "encoding": {"text": {"field": "tekst"}}}
      ]
    },
    {
      "data": {"name": "cellen"},
      "transform": [{"filter": "datum.tabel == '16-3'"}],
      "encoding": {
        "x": {"field": "kol", "type": "quantitative", "axis": null,
              "scale": {"domain": [0, 1, 2, 3, 4, 5], "range": [110, 222, 455, 577, 692, 838], "zero": false, "nice": false}},
        "y": {"field": "rij", "type": "ordinal", "axis": null,
              "scale": {"type": "band", "range": [664, 731], "paddingInner": 0, "paddingOuter": 0}}
      },
      "layer": [
        {"mark": {"type": "rect", "filled": false, "color": "#3c3c3c", "strokeWidth": 1.2}, "encoding": {"x2": {"field": "kolEind"}}},
        {"mark": {"type": "text", "align": "left", "baseline": "middle", "dx": 4, "fontSize": 16.2, "color": "#000000"}, "encoding": {"text": {"field": "tekst"}}}
      ]
    },
    {
      "data": {"name": "cellen"},
      "transform": [{"filter": "datum.tabel == '17-3'"}],
      "encoding": {
        "x": {"field": "kol", "type": "quantitative", "axis": null,
              "scale": {"domain": [0, 1, 2, 3, 4, 5], "range": [110, 222, 440, 600, 712, 851], "zero": false, "nice": false}},
        "y": {"field": "rij", "type": "ordinal", "axis": null,
              "scale": {"type": "band", "range": [770, 859], "paddingInner": 0, "paddingOuter": 0}}
      },
      "layer": [
        {"mark": {"type": "rect", "filled": false, "color": "#3c3c3c", "strokeWidth": 1.2}, "encoding": {"x2": {"field": "kolEind"}}},
        {"mark": {"type": "text", "align": "left", "baseline": "middle", "dx": 4, "fontSize": 16.2, "color": "#000000"}, "encoding": {"text": {"field": "tekst"}}}
      ]
    }
  ],
  "resolve": {"scale": {"x": "independent", "y": "independent", "color": "independent"}, "axis": {"x": "independent", "y": "independent"}, "legend": {"color": "independent"}}
}
